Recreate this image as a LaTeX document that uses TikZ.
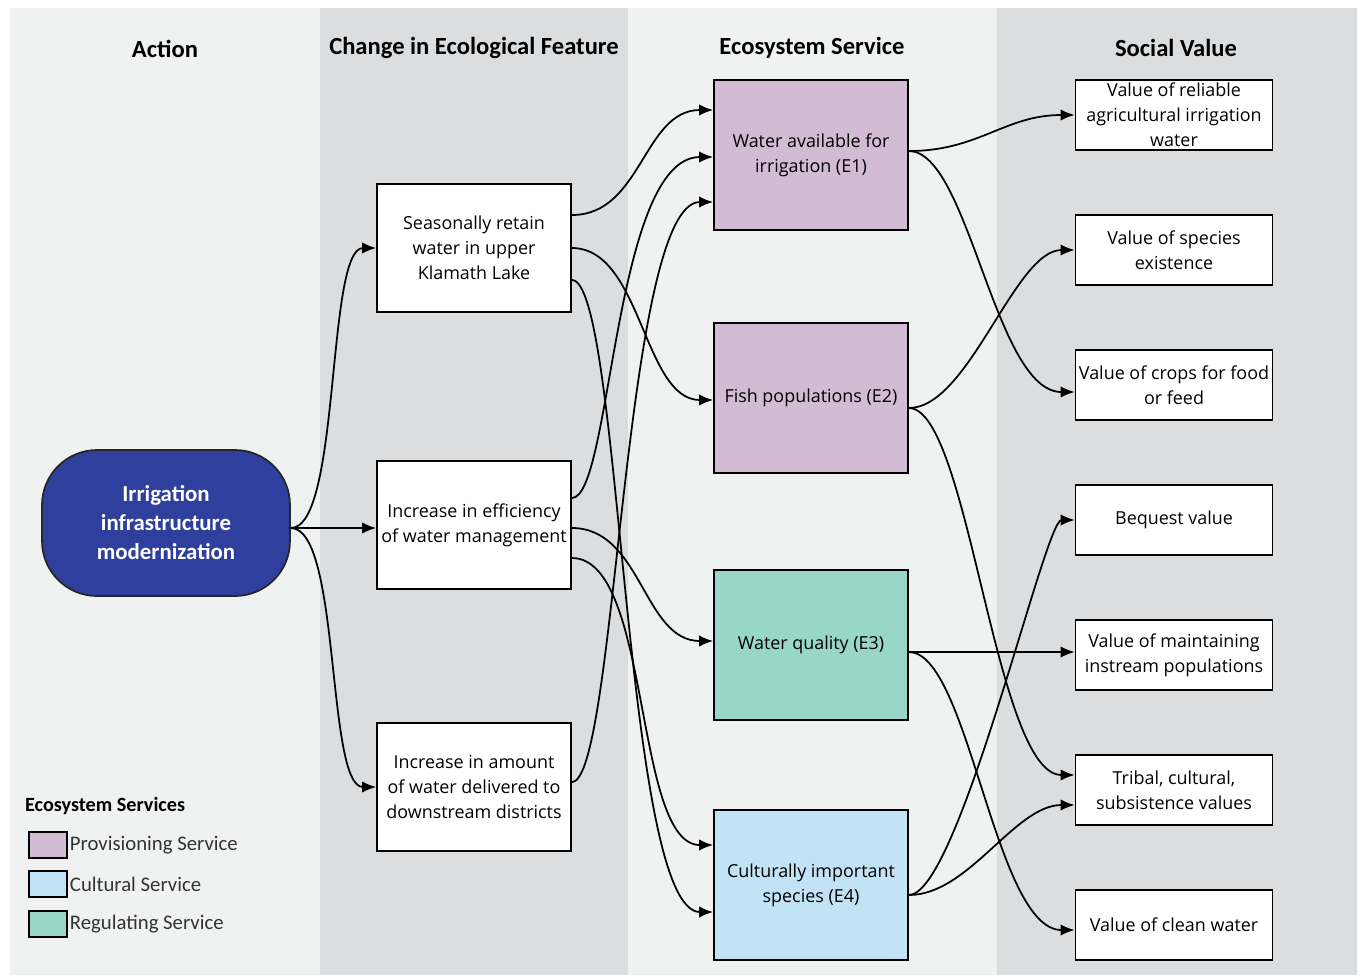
\documentclass[tikz,border=0pt]{standalone}
\usepackage{fontspec}
\setmainfont{Open Sans}
\newfontfamily\headfont{Carlito}
\usetikzlibrary{arrows.meta,calc}

\definecolor{bglight}{HTML}{F0F1F1}
\definecolor{bgdark}{HTML}{DCDDDF}
\definecolor{provis}{HTML}{D1BCD4}
\definecolor{regul}{HTML}{98D6CA}
\definecolor{cultur}{HTML}{C1E3F5}
\definecolor{actblue}{HTML}{2F3F9E}

\begin{document}
\begin{tikzpicture}[x=0.02cm, y=-0.02cm,
    box/.style={draw=black, line width=1pt, fill=white, align=center, inner sep=0.5pt,
        font=\fontsize{10.2}{14.2}\selectfont, minimum width=3.88cm, minimum height=2.55cm},
    esbox/.style={box, minimum height=3.0cm},
    valbox/.style={box, minimum width=3.94cm, minimum height=1.4cm},
    head/.style={font=\headfont\bfseries\fontsize{14}{16}\selectfont},
    swatch/.style={draw=black, line width=1pt, minimum width=0.76cm, minimum height=0.52cm, inner sep=0pt},
    legtext/.style={anchor=west, inner sep=1pt, text=black!80, font=\headfont\fontsize{11.8}{14}\selectfont},
    link/.style={line width=1pt, -{Latex[length=8pt,width=6.5pt]}}]
    \useasboundingbox (0,0) rectangle (1361,975);

    % Column backgrounds
    \fill[bglight] (10,8) rectangle (320,975);
    \fill[bgdark] (320,8) rectangle (628,975);
    \fill[bglight] (628,8) rectangle (997,975);
    \fill[bgdark] (997,8) rectangle (1357,975);

    % Column headings
    \node[head] (hact) at (165,49) {Action};
    \node[head] (hchg) at (474,48) {Change in Ecological Feature};
    \node[head] (hes) at (812,48) {Ecosystem Service};
    \node[head] (hsv) at (1176,48) {Social Value};

    % Action
    \node[draw=black!85, line width=1pt, fill=actblue, rounded corners=1.1cm,
        minimum width=4.96cm, minimum height=2.92cm, text=white, align=center,
        font=\headfont\bfseries\fontsize{13}{16.5}\selectfont] (act) at (166,523)
        {Irrigation\\infrastructure\\modernization};

    % Changes in ecological features
    \node[box] (retain) at (474,248) {Seasonally retain\\water in upper\\Klamath Lake};
    \node[box] (effic) at (474,525) {Increase in efficiency\\of water management};
    \node[box] (amount) at (474,787) {Increase in amount\\of water delivered to\\downstream districts};

    % Ecosystem services
    \node[esbox, fill=provis] (irrig) at (811,155) {Water available for\\irrigation (E1)};
    \node[esbox, fill=provis] (fish) at (811,398) {Fish populations (E2)};
    \node[esbox, fill=regul] (quality) at (811,645) {Water quality (E3)};
    \node[esbox, fill=cultur] (species) at (811,885) {Culturally important\\species (E4)};

    % Social values
    \node[valbox] (vrel) at (1174,115) {Value of reliable\\agricultural irrigation\\water};
    \node[valbox] (vexist) at (1174,250) {Value of species\\existence};
    \node[valbox] (vcrop) at (1174,385) {Value of crops for food\\or feed};
    \node[valbox] (vbeq) at (1174,520) {Bequest value};
    \node[valbox] (vinst) at (1174,655) {Value of maintaining\\instream populations};
    \node[valbox] (vtrib) at (1174,790) {Tribal, cultural,\\subsistence values};
    \node[valbox] (vclean) at (1174,925) {Value of clean water};

    % Action -> changes
    \draw[link] ($(act.east)+(0,5)$) .. controls +(50,0) and +(-50,0) .. (retain.west);
    \draw[link] ($(act.east)+(0,5)$) -- ($(effic.west)+(0,3)$);
    \draw[link] ($(act.east)+(0,5)$) .. controls +(50,0) and +(-50,0) .. (amount.west);

    % Changes -> ecosystem services
    \draw[link] ($(retain.east)+(0,-33)$) .. controls +(70,0) and +(-70,0) .. ($(irrig.west)+(0,-45)$);
    \draw[link] (retain.east) .. controls +(70,0) and +(-70,0) .. ($(fish.west)+(0,2)$);
    \draw[link] ($(retain.east)+(0,32)$) .. controls +(50,0) and +(-90,0) .. ($(species.west)+(0,27)$);
    \draw[link] ($(effic.east)+(0,-27)$) .. controls +(40,0) and +(-100,0) .. ($(irrig.west)+(0,2)$);
    \draw[link] ($(effic.east)+(0,3)$) .. controls +(70,0) and +(-70,0) .. ($(quality.west)+(0,-4)$);
    \draw[link] ($(effic.east)+(0,33)$) .. controls +(80,0) and +(-80,0) .. ($(species.west)+(0,-40)$);
    \draw[link] ($(amount.east)+(0,-5)$) .. controls +(45,0) and +(-90,0) .. ($(irrig.west)+(0,47)$);

    % Ecosystem services -> social values
    \draw[link] ($(irrig.east)+(0,-4)$) .. controls +(70,0) and +(-70,0) .. (vrel.west);
    \draw[link] ($(irrig.east)+(0,-4)$) .. controls +(60,0) and +(-80,0) .. ($(vcrop.west)+(0,7)$);
    \draw[link] ($(fish.east)+(0,10)$) .. controls +(60,0) and +(-60,0) .. (vexist.west);
    \draw[link] ($(fish.east)+(0,10)$) .. controls +(60,0) and +(-80,0) .. ($(vtrib.west)+(0,-15)$);
    \draw[link] ($(quality.east)+(0,7)$) -- ($(vinst.west)+(0,-3)$);
    \draw[link] ($(quality.east)+(0,7)$) .. controls +(60,0) and +(-80,0) .. ($(vclean.west)+(0,5)$);
    \draw[link] ($(species.east)+(0,10)$) .. controls +(50,0) and +(-30,0) .. (vbeq.west);
    \draw[link] ($(species.east)+(0,10)$) .. controls +(60,0) and +(-60,0) .. ($(vtrib.west)+(0,15)$);

    % Legend
    \node[anchor=west, inner sep=1pt, font=\headfont\bfseries\fontsize{11.5}{14}\selectfont] (leg) at (23,806) {Ecosystem Services};
    \node[swatch, fill=provis] (swprov) at (48,845) {};
    \node[swatch, fill=cultur] (swcult) at (48,884) {};
    \node[swatch, fill=regul] (swreg) at (48,924) {};
    \node[legtext] (lprov) at (swprov.east) {Provisioning Service};
    \node[legtext] (lcult) at (swcult.east) {Cultural Service};
    \node[legtext] (lreg) at (swreg.east) {Regulating Service};
\end{tikzpicture}
\end{document}
